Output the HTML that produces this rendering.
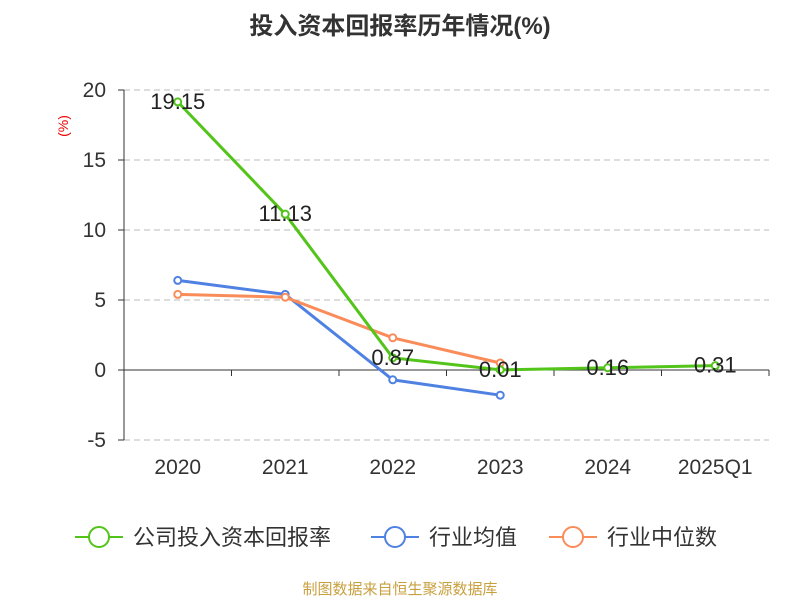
<!DOCTYPE html>
<html><head><meta charset="utf-8"><style>
body{margin:0;background:#fff;}
svg text{font-family:"Liberation Sans","Noto Sans CJK SC",sans-serif;}
</style></head><body>
<svg id="chart" width="800" height="600" xmlns="http://www.w3.org/2000/svg">
<text x="400" y="34" text-anchor="middle" font-size="24" font-weight="bold" fill="#333">投入资本回报率历年情况(%)</text>
<text x="68" y="126" transform="rotate(-90 68 126)" text-anchor="middle" font-size="14" fill="#e00">(%)</text>
<g id="grid"></g><g id="axes"></g><g id="series"></g>
<g>
<g><line x1="75" y1="537" x2="123" y2="537" stroke="#52c41a" stroke-width="2"/><circle cx="99" cy="537" r="10" fill="#fff" stroke="#52c41a" stroke-width="2"/><text x="133" y="545" font-size="22" fill="#333">公司投入资本回报率</text></g>
<g><line x1="371" y1="537" x2="419" y2="537" stroke="#4f81e3" stroke-width="2"/><circle cx="395" cy="537" r="10" fill="#fff" stroke="#4f81e3" stroke-width="2"/><text x="429" y="545" font-size="22" fill="#333">行业均值</text></g>
<g><line x1="549" y1="537" x2="597" y2="537" stroke="#fa8c5a" stroke-width="2"/><circle cx="573" cy="537" r="10" fill="#fff" stroke="#fa8c5a" stroke-width="2"/><text x="607" y="545" font-size="22" fill="#333">行业中位数</text></g>
</g>
<text x="400" y="594" text-anchor="middle" font-size="15" fill="#c8a040">制图数据来自恒生聚源数据库</text>
</svg>
<script>
const categories=["2020","2021","2022","2023","2024","2025Q1"];
const companyValues=[19.15,11.13,0.87,0.01,0.16,0.31];
const companyLabels=["19.15","11.13","0.87","0.01","0.16","0.31"];
const industryAvg=[6.4,5.4,-0.7,-1.8];
const industryMedian=[5.4,5.2,2.3,0.5];
const yTicks=[-5,0,5,10,15,20];
const NS="http://www.w3.org/2000/svg";
const x0=124,x1=769,band=(x1-x0)/categories.length;
const xs=i=>x0+band*(i+0.5);
const ys=v=>370-v*14;
function mk(tag,attrs,parent){const e=document.createElementNS(NS,tag);for(const k in attrs)e.setAttribute(k,attrs[k]);parent.appendChild(e);return e;}
const grid=document.getElementById('grid'),axes=document.getElementById('axes'),ser=document.getElementById('series');
yTicks.forEach(t=>{
 if(t!==0){const l=mk('line',{x1:x0,x2:x1,y1:ys(t),y2:ys(t),stroke:'#bbb','stroke-dasharray':'6,4'},grid);
 
 }
 const tx=mk('text',{x:106,y:ys(t)+7,'text-anchor':'end','font-size':21,fill:'#333'},axes);tx.textContent=t;
 
 
 mk('line',{x1:118,x2:124,y1:ys(t),y2:ys(t),stroke:'#333'},axes);
});
mk('line',{x1:124,x2:124,y1:ys(20),y2:ys(-5),stroke:'#333'},axes);
const xa=mk('line',{x1:x0,x2:x1,y1:ys(0),y2:ys(0),stroke:'#333'},axes);


for(let i=0;i<=categories.length;i++)mk('line',{x1:x0+band*i,x2:x0+band*i,y1:ys(0),y2:ys(0)+6,stroke:'#333'},axes);
categories.forEach((c,i)=>{const t=mk('text',{x:xs(i),y:474,'text-anchor':'middle','font-size':21,fill:'#333'},axes);t.textContent=c;
 
 });
function series(vals,color,name){
 const p=mk('polyline',{points:vals.map((v,i)=>xs(i)+','+ys(v)).join(' '),fill:'none',stroke:color,'stroke-width':3},ser);
 
 
 vals.forEach((v,i)=>{const c=mk('circle',{cx:xs(i),cy:ys(v),r:3.5,fill:'#fff',stroke:color,'stroke-width':2},ser);
 
 });
}
series(industryAvg,'#4f81e3','industry-avg');
series(industryMedian,'#fa8c5a','industry-median');
series(companyValues,'#52c41a','company');
companyValues.forEach((v,i)=>{const t=mk('text',{x:xs(i),y:ys(v)+7,'text-anchor':'middle','font-size':22,fill:'#222'},ser);t.textContent=companyLabels[i];
 
 });
</script>
</body></html>
